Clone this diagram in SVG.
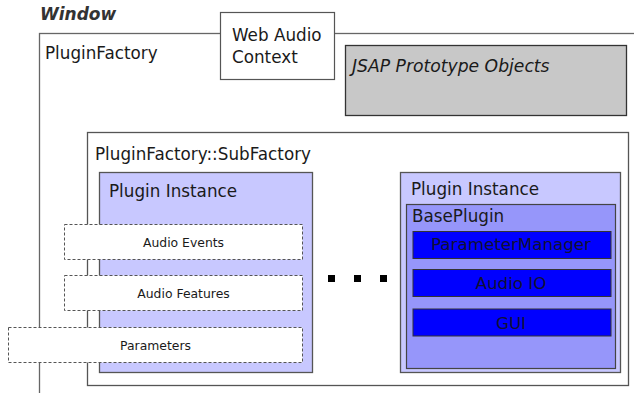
<svg xmlns="http://www.w3.org/2000/svg" width="634" height="393" viewBox="0 0 634 393">
<style>
text{font-family:"DejaVu Sans","Verdana",sans-serif;fill:#1a1a1a}
.lbl{font-size:16.8px}
.small{font-size:12.4px;text-anchor:middle}
.dash{fill:#fff;stroke:#555;stroke-width:1;stroke-dasharray:3,2}
.pi{fill:#c8c8ff;stroke:#555;stroke-width:1.3}
.comp{fill:#0000ff;stroke:#333;stroke-width:1}
.ctext{font-size:16.7px;text-anchor:middle;fill:#111133}
</style>
<rect width="634" height="393" fill="#fff"/>
<text x="40" y="20" style="font-size:17px;font-weight:bold;font-style:italic;fill:#333">Window</text>
<g id="pluginfactory">
<rect x="39.5" y="33.5" width="620" height="400" fill="#fff" stroke="#666" stroke-width="1.3"/>
<text class="lbl" x="45" y="59">PluginFactory</text>
</g>
<g id="webaudio">
<rect x="220.5" y="12.5" width="114" height="67" fill="#fff" stroke="#555" stroke-width="1.2"/>
<text class="lbl" x="232" y="41">Web Audio</text>
<text class="lbl" x="232" y="63">Context</text>
</g>
<g id="jsap">
<rect x="345.5" y="45.5" width="281" height="70" fill="#c8c8c8" stroke="#333" stroke-width="1.3"/>
<text class="lbl" x="352" y="72" style="font-style:italic;font-size:17.2px">JSAP Prototype Objects</text>
</g>
<g id="subfactory">
<rect x="87.5" y="132.5" width="541" height="253" fill="#fff" stroke="#555" stroke-width="1.3"/>
<text class="lbl" x="95" y="160">PluginFactory::SubFactory</text>
</g>
<g id="plugin1">
<rect class="pi" x="99.5" y="172.5" width="213" height="200"/>
<text class="lbl" x="109" y="197">Plugin Instance</text>
</g>
<g id="audioevents">
<rect class="dash" x="64.5" y="224.5" width="238" height="35"/>
<text class="small" x="183.5" y="247">Audio Events</text>
</g>
<g id="audiofeatures">
<rect class="dash" x="64.5" y="275.5" width="238" height="35"/>
<text class="small" x="183.5" y="297.5">Audio Features</text>
</g>
<g id="parameters">
<rect class="dash" x="8.5" y="327.5" width="294" height="35"/>
<text class="small" x="155.5" y="349.5">Parameters</text>
</g>
<g id="ellipsis">
<rect x="328" y="275" width="7" height="7" fill="#000"/>
<rect x="354" y="275" width="7" height="7" fill="#000"/>
<rect x="380" y="275" width="7" height="7" fill="#000"/>
</g>
<g id="plugin2">
<rect class="pi" x="400.5" y="172.5" width="220" height="200"/>
<text class="lbl" x="411" y="195">Plugin Instance</text>
</g>
<g id="baseplugin">
<rect x="406.5" y="204.5" width="209" height="164" fill="#9696fa" stroke="#444" stroke-width="1.2"/>
<text class="lbl" x="412" y="222">BasePlugin</text>
</g>
<g id="parametermanager">
<rect class="comp" x="413" y="231.5" width="198" height="27"/>
<text class="ctext" x="511" y="250">ParameterManager</text>
</g>
<g id="audioio">
<rect class="comp" x="413" y="269.5" width="198" height="27"/>
<text class="ctext" x="511" y="289">Audio IO</text>
</g>
<g id="gui">
<rect class="comp" x="413" y="309" width="198" height="27"/>
<text class="ctext" x="511" y="329">GUI</text>
</g>
<g id="connectors"></g>
</svg>
